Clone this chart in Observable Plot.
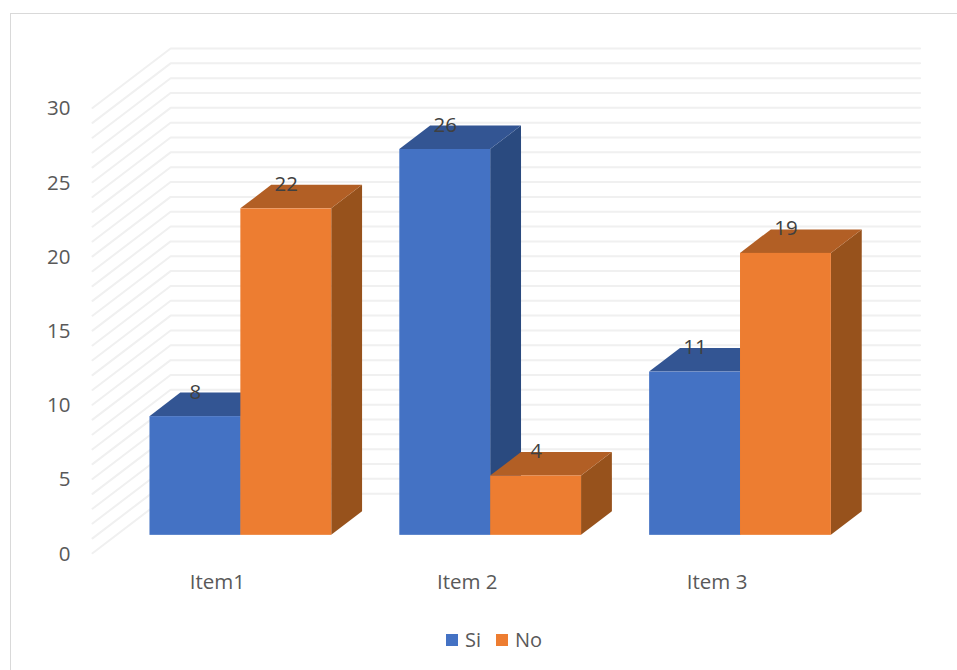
<!DOCTYPE html>
<html><head><meta charset="utf-8">
<script src="https://cdn.jsdelivr.net/npm/d3@7"></script>
<script src="https://cdn.jsdelivr.net/npm/@observablehq/plot@0.6"></script>
<style>
html,body{margin:0;padding:0;background:#fff;overflow:hidden;width:957px;height:670px}
body{position:relative;font-family:"Open Sans",sans-serif}
#frame{position:absolute;left:9.5px;top:13px;width:1000px;height:700px;border-left:1.5px solid #d9d9d9;border-top:1.3px solid #d9d9d9;pointer-events:none}
#chart{position:absolute;left:0;top:0;width:957px}
#chart svg{display:block;overflow:visible}
#legend{position:absolute;left:446px;top:623px;color:#595959}
#legend [class*="-swatches"]{margin:0 !important;font-size:20px !important;font-family:"Open Sans",sans-serif !important;color:#595959 !important}
#legend [class$="-swatch"]{margin-right:15px !important}
#legend [class$="-swatch"] > svg{margin-right:7px !important}
</style></head><body>
<div id="frame"></div>
<div id="chart"></div>
<div id="legend"></div>
<script>
const categories = ["Item1", "Item 2", "Item 3"];
const seriesNames = ["Si", "No"];
const siValues = [8, 26, 11];
const noValues = [22, 4, 19];
const yTicks = [0, 5, 10, 15, 20, 25, 30];
const gridValues = d3.range(0, 31);
const frontColors = ["#4472c4", "#ed7d31"];
const topColors = ["#335593", "#b25f25"];
const sideColors = ["#2a4a7f", "#97521c"];

// oblique projection of the 3D floor: depth z in 0..1 shifts x (category units) and y (value units)
const skewX = 0.3126, skewY = 4.01;
const zFront = 0.300, zBack = 0.695;
const barSpan = 0.7275;
const px = (c, z) => c + z * skewX;
const py = (v, z) => v + z * skewY;

const barsOf = (values, s) => values.map((v, i) => {
  const w = barSpan / 2;
  const left = i + (1 - barSpan) / 2 + s * w;
  return {category: categories[i], series: seriesNames[s], s, v, left, right: left + w, id: `${s}-${i}`};
});
const bars = [...barsOf(siValues, 0), ...barsOf(noValues, 1)];

const sideRows = bars.flatMap(b => [zFront, zBack].map(z => ({
  id: b.id, s: b.s, x: px(b.right, z), y1: py(0, z), y2: py(b.v, z)
})));
const topRows = bars.flatMap(b => [b.left, b.right].map(c => ({
  id: b.id, s: b.s, x1: px(c, zFront), y1: py(b.v, zFront), x2: px(c, zBack), y2: py(b.v, zBack)
})));
const gridRows = gridValues.flatMap(v => [
  {v, x: 0, y: py(v, 0)},
  {v, x: px(0, 1), y: py(v, 1)},
  {v, x: px(categories.length, 1), y: py(v, 1)}
]);

const faces = s => [
  Plot.areaY(sideRows.filter(d => d.s === s), {x: "x", y1: "y1", y2: "y2", z: "id", fill: sideColors[s]}),
  Plot.area(topRows.filter(d => d.s === s), {x1: "x1", y1: "y1", x2: "x2", y2: "y2", z: "id", fill: topColors[s]}),
  Plot.rect(bars.filter(d => d.s === s), {
    x1: d => px(d.left, zFront), x2: d => px(d.right, zFront),
    y1: () => py(0, zFront), y2: d => py(d.v, zFront), fill: "series"
  })
];

const font = '"Open Sans", sans-serif';
const chart = Plot.plot({
  width: 957, height: 622,
  marginLeft: 92, marginRight: 115.5, marginTop: 107.5, marginBottom: 69.3,
  style: {fontFamily: font, background: "transparent", overflow: "visible"},
  x: {type: "linear", domain: [0, categories.length]},
  y: {domain: [0, 30]},
  color: {domain: seriesNames, range: frontColors},
  marks: [
    Plot.line(gridRows, {x: "x", y: "y", z: "v", stroke: "#f0f0f0", strokeWidth: 2}),
    ...faces(0),
    ...faces(1),
    Plot.text(bars, {
      x: d => px((d.left + d.right) / 2, zFront), y: d => py(d.v, zFront),
      text: d => String(d.v), dy: -24.5, fontSize: 20.5, fill: "#404040"
    }),
    Plot.axisY({ticks: yTicks, tickSize: 0, tickPadding: 22, fontSize: 20.5, color: "#595959", label: null, dy: 0.8}),
    Plot.axisX({
      ticks: categories.map((_, i) => i + 0.5), tickFormat: t => categories[Math.floor(t)],
      tickSize: 0, tickPadding: 21.5, fontSize: 20.5, color: "#595959", label: null
    })
  ]
});
document.getElementById("chart").append(chart);
const legend = chart.legend("color", {swatchSize: 12, swatchWidth: 12, swatchHeight: 12});
document.getElementById("legend").append(legend);
</script>
</body></html>
